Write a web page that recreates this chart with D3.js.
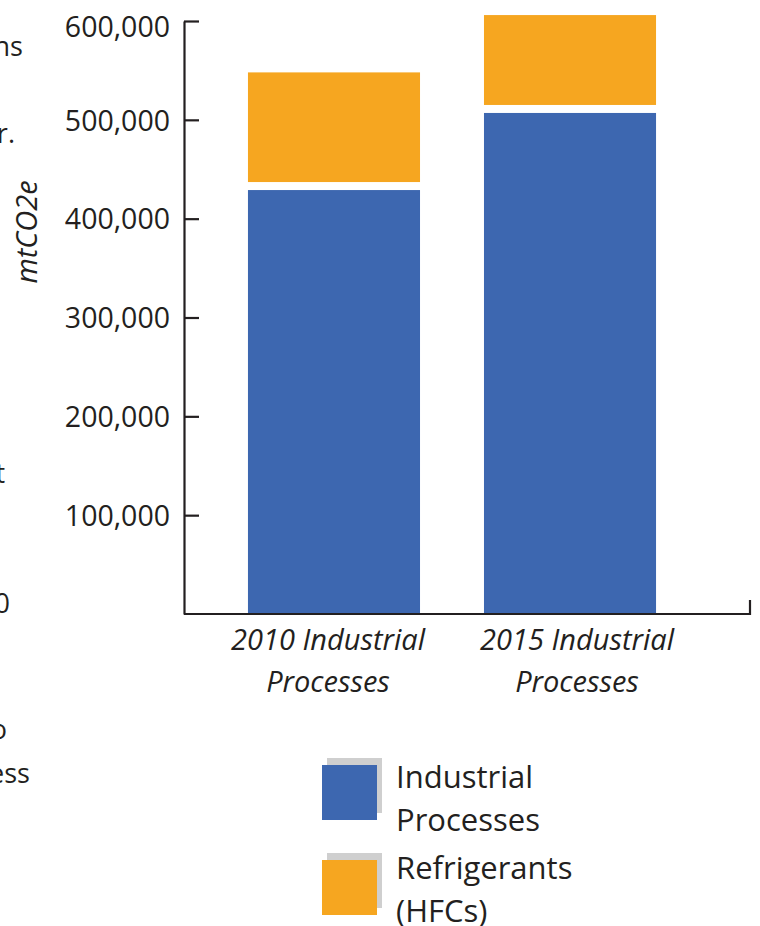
<!DOCTYPE html>
<html>
<head>
<meta charset="utf-8">
<script src="https://cdn.jsdelivr.net/npm/d3@7"></script>
<style>
  html, body { margin: 0; padding: 0; background: #ffffff; }
  svg { display: block; font-family: "Open Sans", "Noto Sans", sans-serif; }
</style>
</head>
<body>
<svg id="chart" width="760" height="926"></svg>
<script>
// Emissions by source, in metric tonnes of CO2 equivalent
const categories = ["2010 Industrial Processes", "2015 Industrial Processes"];
const categoryLines = [["2010 Industrial", "Processes"], ["2015 Industrial", "Processes"]];
const seriesNames = ["Industrial Processes", "Refrigerants (HFCs)"];
const seriesLegendLines = [["Industrial", "Processes"], ["Refrigerants", "(HFCs)"]];
const industrialProcesses = [433000, 511000];
const refrigerantsHFCs = [115000, 95000];
const yTicks = [100000, 200000, 300000, 400000, 500000, 600000];
const yLabel = "mtCO2e";
// Line endings of the neighbouring text column, cut by the left edge
const sideText = [
  { text: "ns", x: 23, y: 56 },
  { text: "r.", x: 15, y: 143 },
  { text: "t", x: 5, y: 483 },
  { text: "0", x: 10, y: 613 },
  { text: "o", x: 7, y: 739 },
  { text: "ess", x: 30, y: 783 }
];

const colors = ["#3d67b0", "#f6a620"];
const ink = "#231f20";

const svg = d3.select("#chart");

const x = d3.scaleBand()
  .domain(categories)
  .range([184, 720])
  .paddingInner(0.271)
  .paddingOuter(0.271);

const xLabelPos = d3.scalePoint()
  .domain(categories)
  .range([328, 577]);

const y = d3.scaleLinear()
  .domain([0, 600000])
  .range([614, 21]);

// Stack the two series per category
const rows = categories.map((c, i) => ({
  category: c,
  industrial: industrialProcesses[i],
  refrigerants: refrigerantsHFCs[i]
}));
const stack = d3.stack().keys(["industrial", "refrigerants"]);
const layers = stack(rows);

const gap = 4; // white seam between stacked segments

svg.append("g")
  .selectAll("g")
  .data(layers)
  .join("g")
    .attr("fill", (d, i) => colors[i])
  .selectAll("rect")
  .data(d => d.map(p => ({ p, key: d.key, idx: d.index })))
  .join("rect")
    .attr("x", d => x(d.p.data.category))
    .attr("width", x.bandwidth())
    .attr("y", d => y(d.p[1]) + (d.idx === 0 ? gap : 0))
    .attr("height", d => {
      const top = y(d.p[1]) + (d.idx === 0 ? gap : 0);
      const bottom = y(d.p[0]) - (d.idx > 0 ? gap : 0);
      return bottom - top;
    });

// Y axis
const yAxis = svg.append("g")
  .attr("transform", "translate(184,0)")
  .call(d3.axisLeft(y)
    .tickValues(yTicks)
    .tickSizeInner(-15)
    .tickSizeOuter(0)
    .tickPadding(14)
    .tickFormat(d3.format(",")));
yAxis.select(".domain").attr("stroke", ink).attr("stroke-width", 2.2);
yAxis.selectAll(".tick line").attr("stroke", ink).attr("stroke-width", 2.2);
yAxis.selectAll(".tick text")
  .attr("fill", ink)
  .attr("font-size", 28.5)
  .attr("font-family", "'Open Sans', sans-serif")
  .attr("dy", d => d === 600000 ? "0.55em" : "0.36em");

// X axis baseline with an end tick
svg.append("path")
  .attr("d", `M184,${y(0)}H750V600`)
  .attr("fill", "none")
  .attr("stroke", ink)
  .attr("stroke-width", 2.2);

// Category labels
const xl = svg.append("g")
  .selectAll("text")
  .data(categories)
  .join("text")
    .attr("x", d => xLabelPos(d))
    .attr("y", 650)
    .attr("text-anchor", "middle")
    .attr("font-style", "italic")
    .attr("font-size", 29)
    .attr("fill", ink);
xl.selectAll("tspan")
  .data((d, i) => categoryLines[i])
  .join("tspan")
    .attr("x", function() { return this.parentNode.getAttribute("x"); })
    .attr("dy", (d, i) => i === 0 ? 0 : 42)
    .text(d => d);

// Y axis title
svg.append("text")
  .attr("transform", "translate(37,232) rotate(-90)")
  .attr("text-anchor", "middle")
  .attr("font-style", "italic")
  .attr("font-size", 29)
  .attr("fill", ink)
  .text(yLabel);

// Legend
const legend = svg.append("g")
  .selectAll("g")
  .data(seriesNames)
  .join("g")
    .attr("transform", (d, i) => `translate(322,${765 + i * 95})`);
legend.append("rect")
  .attr("x", 5).attr("y", -7)
  .attr("width", 55).attr("height", 55)
  .attr("fill", "#cfcfcf");
legend.append("rect")
  .attr("width", 55).attr("height", 55)
  .attr("fill", (d, i) => colors[i]);
const lt = legend.append("text")
  .attr("x", 74)
  .attr("y", (d, i) => 23 - i * 4)
  .attr("font-size", 31)
  .attr("fill", ink);
lt.selectAll("tspan")
  .data((d, i) => seriesLegendLines[i])
  .join("tspan")
    .attr("x", 74)
    .attr("dy", (d, i) => i === 0 ? 0 : 43)
    .text(d => d);

// Neighbouring column text fragments
svg.append("g")
  .selectAll("text")
  .data(sideText)
  .join("text")
    .attr("x", d => d.x)
    .attr("y", d => d.y)
    .attr("text-anchor", "end")
    .attr("font-size", 27)
    .attr("fill", ink)
    .text(d => d.text);
</script>
</body>
</html>
